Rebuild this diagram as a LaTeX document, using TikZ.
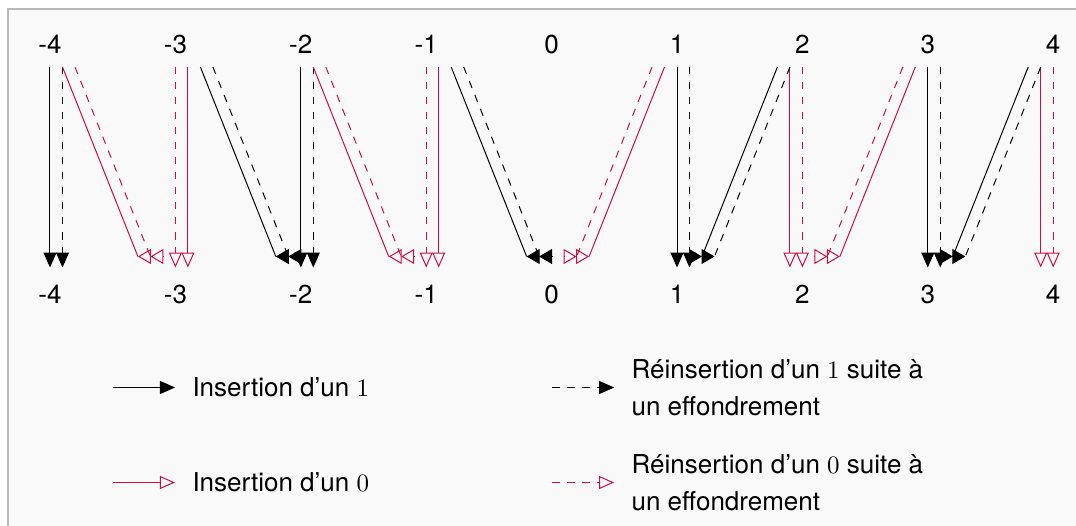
\documentclass[tikz,border=0pt]{standalone}
\usepackage{fontspec}
\setsansfont{TeX Gyre Heros}
\usepackage{xcolor}
\usepackage{tikz}
\usetikzlibrary{arrows.meta, positioning, calc}

\definecolor{crim}{RGB}{200,16,70}
\definecolor{panel}{RGB}{249,249,249}
\definecolor{panelline}{RGB}{185,185,185}

\begin{document}
\begin{tikzpicture}[
    x=0.4pt, y=0.4pt,
    node distance=100pt and 50.16pt, on grid,
    lbl/.style={font=\sffamily\fontsize{10.4}{12.5}\selectfont, inner sep=0pt},
    legtxt/.style={font=\sffamily\fontsize{10.4}{14.8}\selectfont, inner sep=0pt, align=left, anchor=west},
    one/.style={draw=black, -{Triangle[length=6pt, width=5.2pt]}},
    reone/.style={one, dashed},
    zero/.style={draw=crim, -{Triangle[open, length=6pt, width=5.2pt]}},
    rezero/.style={zero, dashed},
    oneline/.style={draw=black},
    reoneline/.style={draw=black, dashed},
    zeroline/.style={draw=crim},
    rezeroline/.style={draw=crim, dashed},
    onetip/.style={draw=black, -{Triangle[length=5.2pt, width=6pt]}},
    zerotip/.style={draw=crim, -{Triangle[open, length=5.2pt, width=6pt]}}
]

% Panel
\useasboundingbox (-50,-482) rectangle (1026,44);
\clip (-50,-482) rectangle (1026,44);
\fill[white] (-50,-482) rectangle (1026,44);
\draw[panelline, fill=panel, line width=0.8pt] (-42,35) rectangle (1060,-520);

% Top labels
\node[lbl] (t-4) at (0,0) {-4};
\node[lbl, right=of t-4] (t-3) {-3};
\node[lbl, right=of t-3] (t-2) {-2};
\node[lbl, right=of t-2] (t-1) {-1};
\node[lbl, right=of t-1] (t0) {0};
\node[lbl, right=of t0] (t1) {1};
\node[lbl, right=of t1] (t2) {2};
\node[lbl, right=of t2] (t3) {3};
\node[lbl, right=of t3] (t4) {4};

% Bottom labels
\node[lbl, below=of t-4] (b-4) {-4};
\node[lbl, below=of t-3] (b-3) {-3};
\node[lbl, below=of t-2] (b-2) {-2};
\node[lbl, below=of t-1] (b-1) {-1};
\node[lbl, below=of t0] (b0) {0};
\node[lbl, below=of t1] (b1) {1};
\node[lbl, below=of t2] (b2) {2};
\node[lbl, below=of t3] (b3) {3};
\node[lbl, below=of t4] (b4) {4};

% Straight down
\draw[one] ($(t-4)+(0,-23)$) -- ($(b-4)+(0,26.5)$);
\draw[reone] ($(t-4)+(12.5,-23)$) -- ($(b-4)+(12.5,26.5)$);
\draw[rezero] ($(t-3)+(0,-23)$) -- ($(b-3)+(0,26.5)$);
\draw[zero] ($(t-3)+(12.5,-23)$) -- ($(b-3)+(12.5,26.5)$);
\draw[one] ($(t-2)+(0,-23)$) -- ($(b-2)+(0,26.5)$);
\draw[reone] ($(t-2)+(12.5,-23)$) -- ($(b-2)+(12.5,26.5)$);
\draw[rezero] ($(t-1)+(0,-23)$) -- ($(b-1)+(0,26.5)$);
\draw[zero] ($(t-1)+(12.5,-23)$) -- ($(b-1)+(12.5,26.5)$);
\draw[one] ($(t1)+(0,-23)$) -- ($(b1)+(0,26.5)$);
\draw[reone] ($(t1)+(12.5,-23)$) -- ($(b1)+(12.5,26.5)$);
\draw[zero] ($(t2)+(-12.5,-23)$) -- ($(b2)+(-12.5,26.5)$);
\draw[rezero] ($(t2)+(0,-23)$) -- ($(b2)+(0,26.5)$);
\draw[one] ($(t3)+(0,-23)$) -- ($(b3)+(0,26.5)$);
\draw[reone] ($(t3)+(12.5,-23)$) -- ($(b3)+(12.5,26.5)$);
\draw[zero] ($(t4)+(-12.5,-23)$) -- ($(b4)+(-12.5,26.5)$);
\draw[rezero] ($(t4)+(0,-23)$) -- ($(b4)+(0,26.5)$);

% Slanted, towards 0 from the left
\draw[zeroline] ($(t-4)+(12.5,-23)$) -- ($(b-3)+(-37.5,37.5)$);
\draw[zerotip] ($(b-3)+(-24.5,37.5)$) -- ($(b-3)+(-37.5,37.5)$);
\draw[rezeroline] ($(t-4)+(25,-23)$) -- ($(b-3)+(-25,37.5)$);
\draw[zerotip] ($(b-3)+(-12,37.5)$) -- ($(b-3)+(-25,37.5)$);

\draw[oneline] ($(t-3)+(25,-23)$) -- ($(b-2)+(-25,37.5)$);
\draw[onetip] ($(b-2)+(-12,37.5)$) -- ($(b-2)+(-25,37.5)$);
\draw[reoneline] ($(t-3)+(37.5,-23)$) -- ($(b-2)+(-12.5,37.5)$);
\draw[onetip] ($(b-2)+(0.5,37.5)$) -- ($(b-2)+(-12.5,37.5)$);

\draw[zeroline] ($(t-2)+(12.5,-23)$) -- ($(b-1)+(-37.5,37.5)$);
\draw[zerotip] ($(b-1)+(-24.5,37.5)$) -- ($(b-1)+(-37.5,37.5)$);
\draw[rezeroline] ($(t-2)+(25,-23)$) -- ($(b-1)+(-25,37.5)$);
\draw[zerotip] ($(b-1)+(-12,37.5)$) -- ($(b-1)+(-25,37.5)$);

\draw[oneline] ($(t-1)+(25,-23)$) -- ($(b0)+(-25,37.5)$);
\draw[onetip] ($(b0)+(-12,37.5)$) -- ($(b0)+(-25,37.5)$);
\draw[reoneline] ($(t-1)+(37.5,-23)$) -- ($(b0)+(-12.5,37.5)$);
\draw[onetip] ($(b0)+(0.5,37.5)$) -- ($(b0)+(-12.5,37.5)$);

% Slanted, towards 0 from the right
\draw[zeroline] ($(t1)+(-12.5,-23)$) -- ($(b0)+(37.5,37.5)$);
\draw[zerotip] ($(b0)+(24.5,37.5)$) -- ($(b0)+(37.5,37.5)$);
\draw[rezeroline] ($(t1)+(-25,-23)$) -- ($(b0)+(25,37.5)$);
\draw[zerotip] ($(b0)+(12,37.5)$) -- ($(b0)+(25,37.5)$);

\draw[oneline] ($(t2)+(-25,-23)$) -- ($(b1)+(25,37.5)$);
\draw[onetip] ($(b1)+(12,37.5)$) -- ($(b1)+(25,37.5)$);
\draw[reoneline] ($(t2)+(-12.5,-23)$) -- ($(b1)+(37.5,37.5)$);
\draw[onetip] ($(b1)+(24.5,37.5)$) -- ($(b1)+(37.5,37.5)$);

\draw[zeroline] ($(t3)+(-12.5,-23)$) -- ($(b2)+(37.5,37.5)$);
\draw[zerotip] ($(b2)+(24.5,37.5)$) -- ($(b2)+(37.5,37.5)$);
\draw[rezeroline] ($(t3)+(-25,-23)$) -- ($(b2)+(25,37.5)$);
\draw[zerotip] ($(b2)+(12,37.5)$) -- ($(b2)+(25,37.5)$);

\draw[oneline] ($(t4)+(-25,-23)$) -- ($(b3)+(25,37.5)$);
\draw[onetip] ($(b3)+(12,37.5)$) -- ($(b3)+(25,37.5)$);
\draw[reoneline] ($(t4)+(-12.5,-23)$) -- ($(b3)+(37.5,37.5)$);
\draw[onetip] ($(b3)+(24.5,37.5)$) -- ($(b3)+(37.5,37.5)$);

% Legend
\node[legtxt] (leg1) at ($(b-4)+(142,-93.5)$) {Insertion d'un $1$};
\node[legtxt] (leg0) at ($(b-4)+(142,-188.5)$) {Insertion d'un $0$};
\node[legtxt] (legre1) at ($(b0)+(79.5,-93.5)$) {Réinsertion d'un $1$ suite à\\un effondrement};
\node[legtxt] (legre0) at ($(b0)+(79.5,-188.5)$) {Réinsertion d'un $0$ suite à\\un effondrement};

\coordinate (k1) at ($(leg1.west)+(-79,0)$);
\coordinate (k0) at ($(leg0.west)+(-79,0)$);
\coordinate (kre1) at ($(legre1.west)+(-79,0)$);
\coordinate (kre0) at ($(legre0.west)+(-79,0)$);

\draw[one] (k1) -- ($(leg1.west)+(-17,0)$);
\draw[zero] (k0) -- ($(leg0.west)+(-17,0)$);
\draw[reone] (kre1) -- ($(legre1.west)+(-17,0)$);
\draw[rezero] (kre0) -- ($(legre0.west)+(-17,0)$);

\end{tikzpicture}
\end{document}
